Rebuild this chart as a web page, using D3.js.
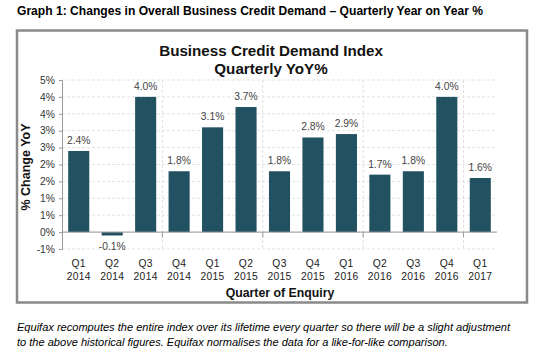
<!DOCTYPE html>
<html><head><meta charset="utf-8">
<script src="https://cdn.jsdelivr.net/npm/d3@7"></script>
<style>
body{margin:0;background:#fff;}
svg{display:block;font-family:"Liberation Sans",Arial,sans-serif;}
</style></head>
<body>
<svg id="c" width="536" height="355"></svg>
<script>
const quarters = ["Q1","Q2","Q3","Q4","Q1","Q2","Q3","Q4","Q1","Q2","Q3","Q4","Q1"];
const years = ["2014","2014","2014","2014","2015","2015","2015","2015","2016","2016","2016","2016","2017"];
const values = [2.4,-0.1,4.0,1.8,3.1,3.7,1.8,2.8,2.9,1.7,1.8,4.0,1.6];
const valueLabels = ["2.4%","-0.1%","4.0%","1.8%","3.1%","3.7%","1.8%","2.8%","2.9%","1.7%","1.8%","4.0%","1.6%"];
const yTicks = [-0.5,0,0.5,1,1.5,2,2.5,3,3.5,4,4.5];
const yTickLabels = ["-1%","0%","1%","1%","2%","2%","3%","3%","4%","4%","5%"];

const svg = d3.select("#c");
const keys = quarters.map((q,i)=>i);

svg.append("text").attr("x",17).attr("y",15).attr("font-size",12.1).attr("font-weight","bold").attr("fill","#000")
  .text("Graph 1: Changes in Overall Business Credit Demand – Quarterly Year on Year %");

svg.append("rect").attr("x",17).attr("y",30.5).attr("width",510).attr("height",272)
  .attr("fill","none").attr("stroke","#8a8a8a").attr("stroke-width",2.5);

svg.append("text").attr("x",271).attr("y",56).attr("text-anchor","middle").attr("font-size",15.2).attr("font-weight","bold").attr("fill","#111")
  .text("Business Credit Demand Index");
svg.append("text").attr("x",271).attr("y",74).attr("text-anchor","middle").attr("font-size",15.2).attr("font-weight","bold").attr("fill","#111")
  .text("Quarterly YoY%");

const x = d3.scaleBand().domain(keys).range([62,497]).paddingInner(0.37).paddingOuter(0.185);
const xs = d3.scaleBand().domain(keys).range([62,497]);
const y = d3.scaleLinear().domain([-0.5,4.5]).range([249,80]);

// horizontal grid
svg.append("g").selectAll("line").data(yTicks).join("line")
  .attr("x1",62).attr("x2",497).attr("y1",d=>y(d)).attr("y2",d=>y(d))
  .attr("stroke","#e2e2e2").attr("stroke-width",1).attr("stroke-dasharray","3,2");
// vertical grid every 3 categories
const vg = keys.filter(i=>i>0 && i%3===0);
svg.append("g").selectAll("line").data(vg).join("line")
  .attr("x1",d=>xs(d)).attr("x2",d=>xs(d)).attr("y1",y(4.5)).attr("y2",y(-0.5))
  .attr("stroke","#e2e2e2").attr("stroke-width",1).attr("stroke-dasharray","3,2");
svg.append("g").selectAll("line").data(vg).join("line")
  .attr("x1",d=>xs(d)).attr("x2",d=>xs(d)).attr("y1",y(0)).attr("y2",y(0)+5)
  .attr("stroke","#999").attr("stroke-width",1);

// bars
svg.append("g").selectAll("rect").data(keys).join("rect")
  .attr("x",i=>x(i)).attr("width",x.bandwidth())
  .attr("y",i=>y(Math.max(0,values[i])))
  .attr("height",i=>Math.abs(y(values[i])-y(0)))
  .attr("fill","#225162");

// zero line
svg.append("line").attr("x1",62).attr("x2",497).attr("y1",y(0)).attr("y2",y(0)).attr("stroke","#999").attr("stroke-width",1);

// y axis
const ya = d3.axisLeft(y).tickValues(yTicks).tickFormat((d,i)=>yTickLabels[i]).tickSize(3).tickPadding(4);
const yg = svg.append("g").attr("transform","translate(62,0)").call(ya);
yg.select(".domain").attr("stroke","#999");
yg.selectAll(".tick line").attr("stroke","#999");
yg.selectAll("text").attr("font-size",10.3).attr("fill","#333").attr("font-family","'Liberation Sans',Arial,sans-serif");

// value labels
svg.append("g").selectAll("text").data(keys).join("text")
  .attr("x",i=>x(i)+x.bandwidth()/2)
  .attr("y",i=>values[i]>=0 ? y(values[i])-7 : y(values[i])+15)
  .attr("text-anchor","middle").attr("font-size",10.3).attr("fill","#444")
  .text(i=>valueLabels[i]);

// x labels
const xl = svg.append("g").selectAll("text").data(keys).join("text")
  .attr("text-anchor","middle").attr("font-size",10.3).attr("fill","#222").attr("letter-spacing",0.3);
xl.append("tspan").attr("x",i=>xs(i)+xs.bandwidth()/2).attr("y",267).text(i=>quarters[i]);
xl.append("tspan").attr("x",i=>xs(i)+xs.bandwidth()/2).attr("y",280).text(i=>years[i]);

svg.append("text").attr("x",280).attr("y",297).attr("text-anchor","middle").attr("font-size",12.3).attr("font-weight","bold").attr("fill","#111")
  .text("Quarter of Enquiry");

svg.append("text").attr("transform","translate(30,167) rotate(-90)").attr("text-anchor","middle").attr("font-size",12.5).attr("font-weight","bold").attr("fill","#111")
  .text("% Change YoY");

const fn = svg.append("text").attr("font-size",11.05).attr("font-style","italic").attr("fill","#000");
fn.append("tspan").attr("x",17).attr("y",331).text("Equifax recomputes the entire index over its lifetime every quarter so there will be a slight adjustment");
fn.append("tspan").attr("x",17).attr("y",346).text("to the above historical figures. Equifax normalises the data for a like-for-like comparison.");
</script>
</body></html>
